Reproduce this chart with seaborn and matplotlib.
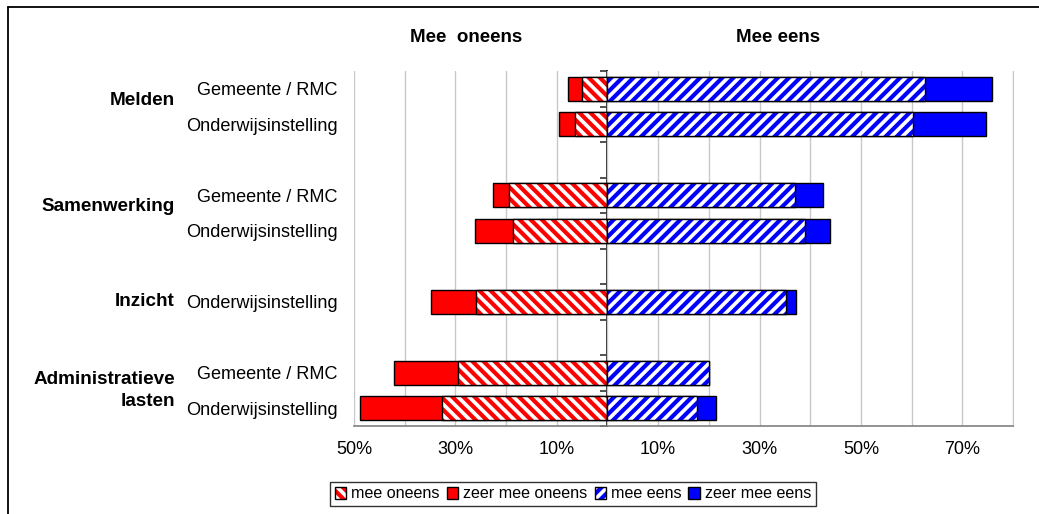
import numpy as np
import pandas as pd
import matplotlib
matplotlib.use("Agg")
import matplotlib.pyplot as plt
import seaborn as sns
from matplotlib.patches import Patch
from matplotlib.lines import Line2D
from matplotlib.colors import to_rgba
import matplotlib.transforms as mtransforms
from matplotlib.ticker import MultipleLocator, FixedLocator, FuncFormatter

# ---------------- data ----------------
group_names = ["Melden", "Samenwerking", "Inzicht", "Administratieve\nlasten"]
row_group = ["Melden", "Melden", "Samenwerking", "Samenwerking", "Inzicht",
             "Administratieve\nlasten", "Administratieve\nlasten"]
row_label = ["Gemeente / RMC", "Onderwijsinstelling", "Gemeente / RMC",
             "Onderwijsinstelling", "Onderwijsinstelling", "Gemeente / RMC",
             "Onderwijsinstelling"]
mee_oneens = [5.0, 6.5, 19.5, 18.7, 25.9, 29.4, 32.7]
zeer_mee_oneens = [2.8, 3.0, 3.0, 7.5, 9.0, 12.7, 16.1]
mee_eens = [62.7, 60.3, 37.0, 38.9, 35.2, 20.1, 17.7]
zeer_mee_eens = [13.1, 14.3, 5.6, 5.0, 1.9, 0.0, 3.8]
series_names = ["mee oneens", "zeer mee oneens", "mee eens", "zeer mee eens"]
header_left = "Mee  oneens"
header_right = "Mee eens"

RED = "#FF0000"
BLUE = "#0000FF"

# --------------- style -----------------
sns.set_style("white")
plt.rcParams["font.family"] = ["Liberation Sans", "DejaVu Sans"]
plt.rcParams["hatch.linewidth"] = 3.0
plt.rcParams["text.color"] = "black"
plt.rcParams["xtick.labelcolor"] = "black"
plt.rcParams["ytick.labelcolor"] = "black"

# slot order with blank rows between groups
keys = [g + "|" + l for g, l in zip(row_group, row_label)]
slot_order, slot_labels, slot_group = [], [], []
for gi, g in enumerate(group_names):
    for k, grp, lab in zip(keys, row_group, row_label):
        if grp == g:
            slot_order.append(k)
            slot_labels.append(lab)
            slot_group.append(g)
    if gi < len(group_names) - 1:
        slot_order.append("gap%d" % gi)
        slot_labels.append("")
        slot_group.append(None)

mo = np.array(mee_oneens)
zmo = np.array(zeer_mee_oneens)
me = np.array(mee_eens)
zme = np.array(zeer_mee_eens)
df = pd.DataFrame({
    "slot": keys,
    "neg_total": -(mo + zmo),
    "neg_mee": -mo,
    "pos_total": me + zme,
    "pos_mee": me,
})

W, H = 1039, 514
fig = plt.figure(figsize=(W / 100, H / 100), dpi=100)
L, R, T, B = 354, 1013, 71, 426
ax = fig.add_axes([L / W, 1 - B / H, (R - L) / W, (B - T) / H])


def layer(col, face, hatch=None, hatch_color=None):
    n0 = len(ax.patches)
    sns.barplot(data=df, x=col, y="slot", order=slot_order, orient="h",
                color=face, saturation=1, edgecolor="black", linewidth=1.0,
                width=0.68, errorbar=None, ax=ax, zorder=3)
    for p in ax.patches[n0:]:
        p.set_zorder(3)
        if hatch:
            p.set_hatch(hatch)
            p._hatch_color = to_rgba(hatch_color)


layer("neg_total", RED)
layer("neg_mee", "white", "\\\\\\", RED)
layer("pos_total", BLUE)
layer("pos_mee", "white", "///", BLUE)

# --------------- axes -----------------
xmin, xmax = -50, 80
ax.set_xlim(xmin, xmax)
ax.set_ylim(len(slot_order) - 0.5, -0.5)
ax.set_xlabel("")
ax.set_ylabel("")

ax.xaxis.set_major_locator(FixedLocator(np.arange(-50, 71, 20)))
ax.xaxis.set_minor_locator(MultipleLocator(10))
ax.xaxis.set_major_formatter(FuncFormatter(lambda v, p: "%d%%" % abs(round(v))))
ax.grid(False)
ax.xaxis.grid(True, which="both", color="#C8C8C8", linewidth=1.0, zorder=0)
ax.set_axisbelow(True)
ax.tick_params(axis="x", which="major", direction="out", length=5, width=1,
               color="#808080", labelsize=13, pad=6, labelcolor="black")
ax.tick_params(axis="x", which="minor", length=0)

ax.set_yticks(range(len(slot_order)))
ax.set_yticklabels(slot_labels)
ax.tick_params(axis="y", length=0, pad=12, labelsize=13.1, labelcolor="black")

for s in ["top", "left"]:
    ax.spines[s].set_visible(False)
ax.spines["right"].set_color("#C8C8C8")
ax.spines["bottom"].set_color("#808080")
ax.spines["bottom"].set_linewidth(1.2)

# vertical zero axis with slot-boundary ticks
zero_frac = (0 - xmin) / (xmax - xmin)
sec = ax.secondary_yaxis(zero_frac)
sec.set_alignment("left")
sec.set_yticks(np.arange(-0.5, len(slot_order), 1.0))
sec.tick_params(axis="y", direction="out", length=5, width=1.2,
                color="#333333", labelleft=False, labelright=False)
for s in sec.spines.values():
    s.set_color("#222222")
    s.set_linewidth(1.4)

# group labels
trans = mtransforms.blended_transform_factory(fig.transFigure, ax.transData)
for g in group_names:
    idx = [i for i, sg in enumerate(slot_group) if sg == g]
    yc = float(np.mean(idx))
    if len(idx) > 1 and "\n" not in g:
        yc -= 0.18
    ax.text(175 / W, yc, g, transform=trans, ha="right", va="center",
            multialignment="right", fontsize=13.6, fontweight="bold",
            linespacing=1.45, color="black")

# headers
fig.text(466 / W, 1 - 37 / H, header_left, ha="center", va="center",
         fontsize=13.5, fontweight="bold", color="black")
fig.text(778 / W, 1 - 37 / H, header_right, ha="center", va="center",
         fontsize=13.5, fontweight="bold", color="black")

# legend
handles = []
for name, face, hatch, hc in [
        (series_names[0], "white", "\\\\\\", RED),
        (series_names[1], RED, None, None),
        (series_names[2], "white", "///", BLUE),
        (series_names[3], BLUE, None, None)]:
    p = Patch(facecolor=face, edgecolor="black", linewidth=1.0, hatch=hatch,
              label=name)
    if hatch:
        p._hatch_color = to_rgba(hc)
    handles.append(p)
leg = fig.legend(handles=handles, loc="center",
                 bbox_to_anchor=(573 / W, 1 - 494 / H), ncol=4,
                 fontsize=11.6, frameon=True, fancybox=False,
                 handlelength=0.7, handleheight=0.7, handletextpad=0.3,
                 columnspacing=0.45, borderpad=0.3, borderaxespad=0)
leg.get_frame().set_edgecolor("black")
leg.get_frame().set_linewidth(1.0)
for t in leg.get_texts():
    t.set_color("black")

# outer chart frame (partially visible)
fig.add_artist(Line2D([8 / W, 1.01], [1 - 7 / H, 1 - 7 / H],
                      transform=fig.transFigure, color="black", lw=1.3))
fig.add_artist(Line2D([8 / W, 8 / W], [-0.01, 1 - 7 / H],
                      transform=fig.transFigure, color="black", lw=1.3))

fig.savefig("out.png", dpi=100)
